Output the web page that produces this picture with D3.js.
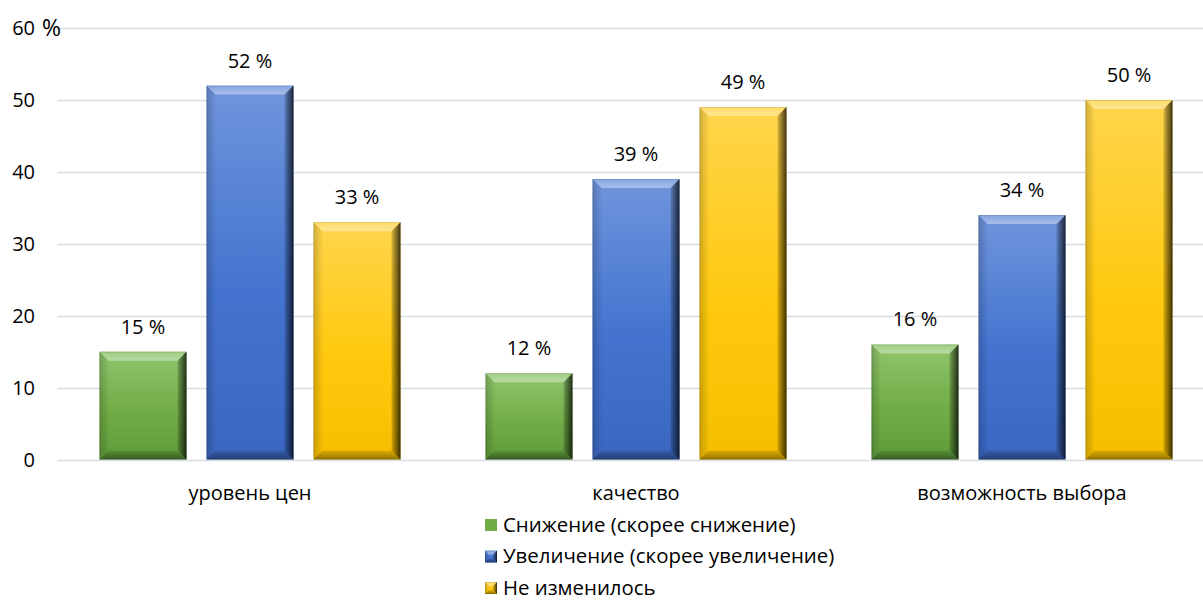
<!DOCTYPE html>
<html><head><meta charset="utf-8">
<script src="https://cdn.jsdelivr.net/npm/d3@7"></script>
<style>body{margin:0;background:#fff}svg{display:block}text{font-family:"Open Sans","Noto Sans",sans-serif;fill:#000}</style>
</head><body><svg id="c" width="1203" height="601"></svg>
<script>
const categories = ["уровень цен", "качество", "возможность выбора"];
const seriesNames = ["Снижение (скорее снижение)", "Увеличение (скорее увеличение)", "Не изменилось"];
const decrease = [15, 12, 16];
const increase = [52, 39, 34];
const unchanged = [33, 49, 50];
const yTicks = [0, 10, 20, 30, 40, 50, 60];
const seriesValues = [decrease, increase, unchanged];

const palette = [
  {top:"#8fc56c", mid:"#71ad47", bot:"#5f9c3a"},
  {top:"#6f95dc", mid:"#4474cf", bot:"#3a66c0"},
  {top:"#ffd54c", mid:"#ffc90f", bot:"#f5bf00"}
];
const FS = "20px";

const svg = d3.select("#c");
const defs = svg.append("defs");
const y = d3.scaleLinear().domain([0, 60]).range([459.5, 28]);
const x0 = d3.scaleBand().domain(categories).range([57, 1215]);
const x1 = d3.scaleBand().domain(d3.range(3)).range([0, x0.bandwidth()]).paddingInner(20/107).paddingOuter(0.397);

palette.forEach((p,i)=>{
  const g = defs.append("linearGradient").attr("id","body"+i).attr("x1",0).attr("y1",0).attr("x2",0).attr("y2",1);
  g.append("stop").attr("offset",0).attr("stop-color",p.top);
  g.append("stop").attr("offset",0.55).attr("stop-color",p.mid);
  g.append("stop").attr("offset",1).attr("stop-color",p.bot);
});
const rg = defs.append("linearGradient").attr("id","rightShade").attr("x1",0).attr("y1",0).attr("x2",1).attr("y2",0);
rg.append("stop").attr("offset",0).attr("stop-color","#000").attr("stop-opacity",0.15);
rg.append("stop").attr("offset",1).attr("stop-color","#000").attr("stop-opacity",0.75);
const lg = defs.append("linearGradient").attr("id","leftShade").attr("x1",0).attr("y1",0).attr("x2",1).attr("y2",0);
lg.append("stop").attr("offset",0).attr("stop-color","#000").attr("stop-opacity",0.18);
lg.append("stop").attr("offset",1).attr("stop-color","#000").attr("stop-opacity",0.02);
const tg = defs.append("linearGradient").attr("id","topShade").attr("x1",0).attr("y1",0).attr("x2",0).attr("y2",1);
tg.append("stop").attr("offset",0).attr("stop-color","#fff").attr("stop-opacity",0.15);
tg.append("stop").attr("offset",1).attr("stop-color","#fff").attr("stop-opacity",0.4);
const bg = defs.append("linearGradient").attr("id","botShade").attr("x1",0).attr("y1",0).attr("x2",0).attr("y2",1);
bg.append("stop").attr("offset",0).attr("stop-color","#000").attr("stop-opacity",0.1);
bg.append("stop").attr("offset",1).attr("stop-color","#000").attr("stop-opacity",0.4);

// gridlines
svg.append("g").selectAll("line").data(yTicks).join("line")
  .attr("x1",57).attr("x2",1203).attr("y1",d=>Math.round(y(d))+0.5).attr("y2",d=>Math.round(y(d))+0.5)
  .attr("stroke","#d9dde3").attr("stroke-width",1.3);

// y labels
svg.append("g").selectAll("text").data(yTicks).join("text")
  .attr("x",35).attr("y",d=>y(d)).attr("dy","0.36em").attr("text-anchor","end")
  .style("font-size",FS).text(d=>d);
svg.append("text").attr("x",42).attr("y",y(60)).attr("dy","0.36em").style("font-size","23px").text("%");

function bevelBar(g, x, yt, w, h, i, b){
  const yb = yt + h;
  b = Math.min(b, h/2, w/2);
  g.append("rect").attr("x",x).attr("y",yt).attr("width",w).attr("height",h).attr("fill",`url(#body${i})`);
  g.append("path").attr("d",`M${x},${yt}L${x+w},${yt}L${x+w-b},${yt+b}L${x+b},${yt+b}Z`).attr("fill","url(#topShade)");
  g.append("path").attr("d",`M${x},${yt}L${x+b},${yt+b}L${x+b},${yb-b}L${x},${yb}Z`).attr("fill","url(#leftShade)");
  g.append("path").attr("d",`M${x+w},${yt}L${x+w},${yb}L${x+w-b},${yb-b}L${x+w-b},${yt+b}Z`).attr("fill","url(#rightShade)");
  g.append("path").attr("d",`M${x},${yb}L${x+b},${yb-b}L${x+w-b},${yb-b}L${x+w},${yb}Z`).attr("fill","url(#botShade)");
  g.append("rect").attr("x",x+0.5).attr("y",yt+0.5).attr("width",w-1).attr("height",h-1).attr("fill","none").attr("stroke","#000").attr("stroke-opacity",0.12);
}

const bars = svg.append("g");
categories.forEach((c,ci)=>{
  seriesValues.forEach((vals,si)=>{
    const v = vals[ci];
    const bx = x0(c) + x1(si);
    const bw = x1.bandwidth();
    bevelBar(bars, bx, y(v), bw, y(0)-y(v), si, 9);
    bars.append("text").attr("x",bx+bw/2).attr("y",y(v)-18).attr("text-anchor","middle")
      .style("font-size",FS).text(v+" %");
  });
});

// x labels
svg.append("g").selectAll("text").data(categories).join("text")
  .attr("x",d=>x0(d)+x0.bandwidth()/2).attr("y",500).attr("text-anchor","middle")
  .style("font-size",FS).text(d=>d);

// legend
const leg = svg.append("g");
seriesNames.forEach((n,i)=>{
  const ly = 525 + i*31.5;
  const lx = 485;
  if(i===0){
    leg.append("rect").attr("x",lx).attr("y",ly-6).attr("width",12).attr("height",12).attr("fill",palette[i].mid);
  } else {
    bevelBar(leg, lx, ly-6, 12, 12, i, 4);
  }
  leg.append("text").attr("x",lx+18).attr("y",ly).attr("dy","0.34em").style("font-size","20.4px").text(n);
});
</script></body></html>
